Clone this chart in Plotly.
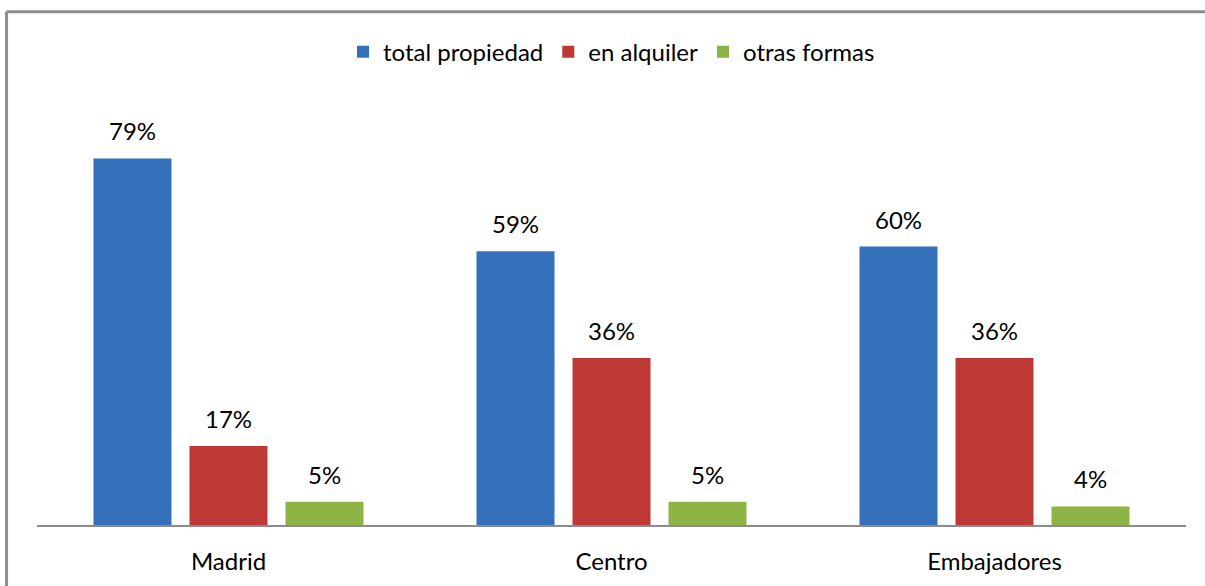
import plotly.graph_objects as go

# data
zones = ["Madrid", "Centro", "Embajadores"]
total_propiedad = [79, 59, 60]
en_alquiler = [17, 36, 36]
otras_formas = [5, 5, 4]

series = [
    ("total propiedad", total_propiedad, "#3571bb"),
    ("en alquiler", en_alquiler, "#be3936"),
    ("otras formas", otras_formas, "#8db444"),
]

FONT = "Lato, Noto Sans, sans-serif"

fig = go.Figure()
for name, values, color in series:
    fig.add_trace(go.Bar(
        name=name,
        x=zones,
        y=values,
        marker=dict(color=color, line=dict(width=0)),
    ))

# value labels sit a bit higher above the bars than plotly's own "outside" text
slot = 96  # px between bar centres in a group
for i, (name, values, color) in enumerate(series):
    for zone, v in zip(zones, values):
        fig.add_annotation(
            x=zone, y=v, text=f"{v}%", showarrow=False,
            xshift=(i - 1) * slot, yshift=11, yanchor="bottom",
            font=dict(family=FONT, size=24, color="#000000"),
        )

# outer chart border (left and top visible)
fig.add_shape(type="line", xref="paper", yref="paper",
              x0=-0.0265, x1=-0.0265, y0=1.106, y1=-0.3,
              line=dict(color="#8c8c8c", width=3))
fig.add_shape(type="line", xref="paper", yref="paper",
              x0=-0.0265, x1=1.05, y0=1.106, y1=1.106,
              line=dict(color="#8c8c8c", width=3))

fig.update_layout(
    width=1205,
    height=586,
    margin=dict(l=37, r=19, t=61, b=61),
    paper_bgcolor="white",
    plot_bgcolor="white",
    font=dict(family=FONT, size=24, color="#000000"),
    barmode="group",
    bargap=0.248,
    bargroupgap=0.1875,
    showlegend=True,
    legend=dict(
        orientation="h",
        x=0.5, xanchor="center",
        y=1.019, yanchor="middle",
        font=dict(size=24),
        itemwidth=30,
        traceorder="normal",
    ),
    xaxis=dict(
        showline=True, linecolor="#8c8c8c", linewidth=2,
        ticks="", showgrid=False,
        tickfont=dict(size=24),
        ticklabelstandoff=14,
        automargin=False,
    ),
    yaxis=dict(
        range=[0, 100], visible=False, showgrid=False, zeroline=False,
        automargin=False,
    ),
)

fig.write_html(
    "out.html",
    config={"displayModeBar": False},
    post_script="document.body.style.margin='0';",
)
